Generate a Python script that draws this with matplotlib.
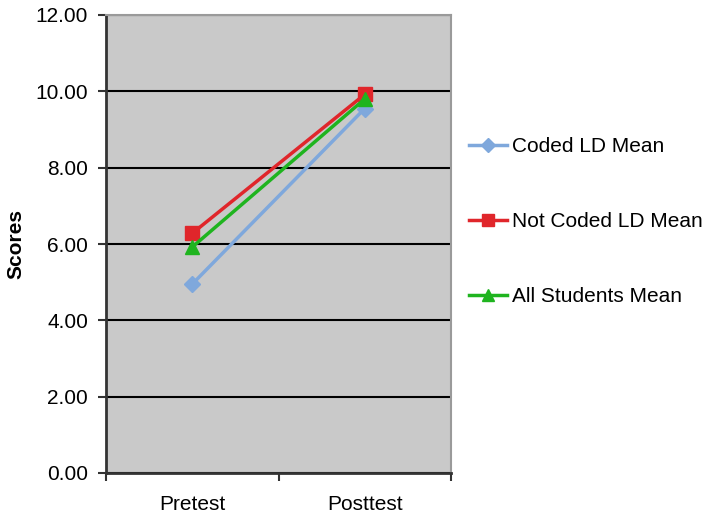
import numpy as np
import matplotlib
matplotlib.use("Agg")
import matplotlib.pyplot as plt
from matplotlib.ticker import FormatStrFormatter, FixedLocator

plt.rcParams['font.family'] = ['Liberation Sans', 'DejaVu Sans']

# mean scores per test
tests = ['Pretest', 'Posttest']
coded_ld = [4.95, 9.55]
not_coded_ld = [6.28, 9.92]
all_students = [5.92, 9.80]

series = [
    ('Coded LD Mean', coded_ld, '#7FA8DC', 'D', 8.5),
    ('Not Coded LD Mean', not_coded_ld, '#E0262B', 's', 10),
    ('All Students Mean', all_students, '#1FB41F', '^', 10.5),
]

fig = plt.figure(figsize=(7.06, 5.14), dpi=100)
ax = fig.add_axes([106 / 706, 1 - 473 / 514, 345 / 706, 458 / 514])
ax.set_facecolor('#C9C9C9')

x = np.arange(len(tests))
for label, vals, color, marker, ms in series:
    ax.plot(x, vals, color=color, lw=2.5, marker=marker, ms=ms,
            markeredgecolor=color, label=label, zorder=3)

ax.set_xlim(-0.5, len(tests) - 0.5)
ax.set_ylim(0, 12)
ax.set_yticks(np.arange(0, 13, 2))
ax.yaxis.set_major_formatter(FormatStrFormatter('%.2f'))
ax.set_xticks(x)
ax.set_xticklabels(tests)
ax.xaxis.set_minor_locator(FixedLocator(np.arange(-0.5, len(tests), 1.0)))

ax.tick_params(axis='x', which='major', length=0, pad=16, labelsize=15)
ax.tick_params(axis='x', which='minor', length=6, width=1.5, color='#333333')
ax.tick_params(axis='y', length=6, width=1.5, color='#333333', pad=7, labelsize=15)

ax.grid(axis='y', color='black', lw=1.5, zorder=1)
ax.set_axisbelow(True)

for side in ['left', 'bottom']:
    ax.spines[side].set_color('#333333')
    ax.spines[side].set_linewidth(2)
for side in ['right', 'top']:
    ax.spines[side].set_color('#9A9A9A')
    ax.spines[side].set_linewidth(1.5)

ax.set_ylabel('Scores', fontsize=15, fontweight='bold', labelpad=7)

fig.legend(loc='upper left', bbox_to_anchor=(469 / 706, 1 - 137 / 514),
           frameon=False, fontsize=15, labelspacing=2.7, handlelength=1.83,
           handletextpad=0.25, borderpad=0, borderaxespad=0,
           markerscale=0.85)

fig.savefig('out.png', dpi=100)
